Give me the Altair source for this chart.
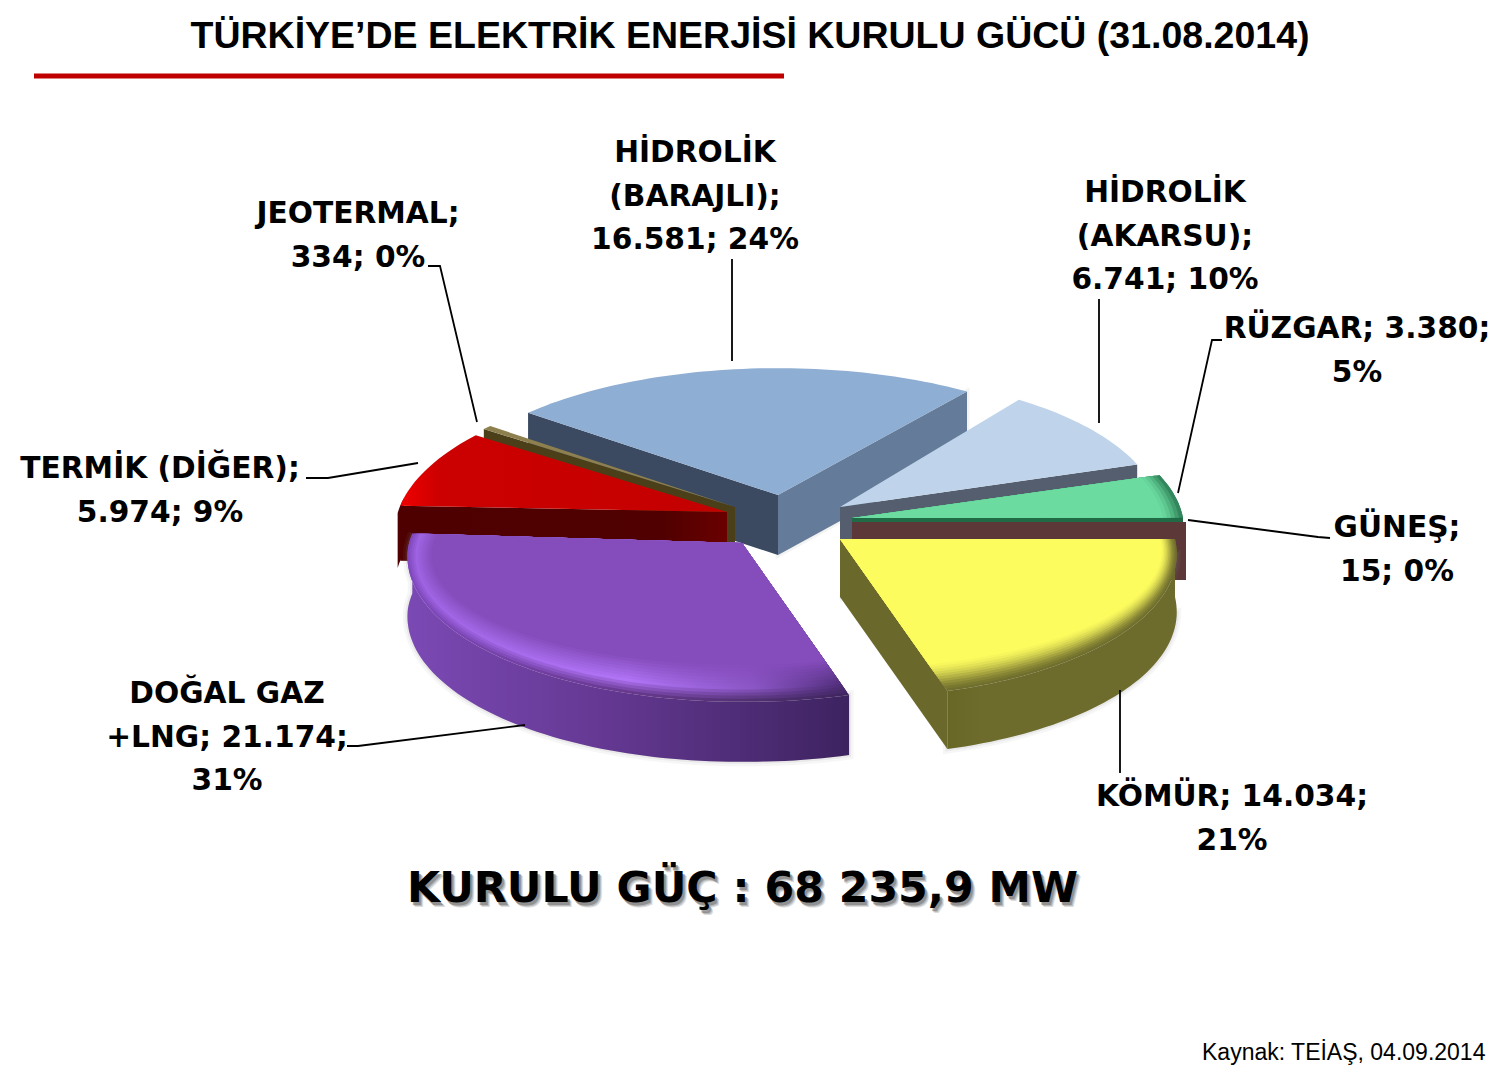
import math
import altair as alt

title_text = "TÜRKİYE’DE ELEKTRİK ENERJİSİ KURULU GÜCÜ (31.08.2014)"
total_text = "KURULU GÜÇ : 68 235,9 MW"
source_text = "Kaynak: TEİAŞ, 04.09.2014"

categories = ["KÖMÜR", "DOĞAL GAZ +LNG", "TERMİK (DİĞER)", "JEOTERMAL",
              "HİDROLİK (BARAJLI)", "HİDROLİK (AKARSU)", "RÜZGAR", "GÜNEŞ"]
values = [14034, 21174, 5974, 334, 16581, 6741, 3380, 15]
labels = ["KÖMÜR; 14.034;\n21%", "DOĞAL GAZ\n+LNG; 21.174;\n31%", "TERMİK (DİĞER);\n5.974; 9%",
          "JEOTERMAL;\n334; 0%", "HİDROLİK\n(BARAJLI);\n16.581; 24%", "HİDROLİK\n(AKARSU);\n6.741; 10%",
          "RÜZGAR; 3.380;\n5%", "GÜNEŞ;\n15; 0%"]

# geometry / style (page pixels; the projection and text offsets remove the 8px page margin)
START = 90.0
P = 0.08
SHEAR = 0.05
GEOM = {  # apex x, apex y, R, Q, depth, tilt
    "KÖMÜR": (840, 539, 335, 146, 58, 0),
    "DOĞAL GAZ +LNG": (742, 543, 334, 146, 60, 5),
    "TERMİK (DİĞER)": (727, 512, 331, 144, 55, 8),
    "JEOTERMAL": (735, 507, 331, 135, 38, 0),
    "HİDROLİK (BARAJLI)": (778, 495, 338, 137, 60, 0),
    "HİDROLİK (AKARSU)": (840, 507, 320, 142, 55, 0),
    "RÜZGAR": (852, 518, 331, 143, 58, 0),
    "GÜNEŞ": (852, 522, 334, 143, 58, 0),
}
LABEL_POS = {"KÖMÜR": (1232, 797), "DOĞAL GAZ +LNG": (227, 694), "TERMİK (DİĞER)": (160, 469),
             "JEOTERMAL": (358, 214), "HİDROLİK (BARAJLI)": (695, 153), "HİDROLİK (AKARSU)": (1165, 193),
             "RÜZGAR": (1357, 329), "GÜNEŞ": (1397, 528)}
LEADERS = [[(732, 259), (732, 361)],
           [(428, 266), (440, 266), (477, 422)],
           [(306, 478), (328, 478), (418, 463)],
           [(347, 746), (358, 746), (525, 725)],
           [(1120, 690), (1120, 773)],
           [(1330, 538), (1318, 537), (1188, 520)],
           [(1222, 340), (1212, 340), (1178, 493)],
           [(1099, 299), (1099, 423)]]

proj = dict(type="identity", scale=1, translate=[-8, -8])


def pt(name, t, da=0.0, db=0.0, dy=0.0):
    cx, cy, R, Q, _, tilt = GEOM[name]
    u, v = math.sin(math.radians(t)), math.cos(math.radians(t))
    w = 1 + P * v
    x = cx + (R - da) * u / w + SHEAR * (Q - db) * max(0.0, -v) / w
    y = cy - (Q - db) * v / w + dy + tilt * max(0.0, -u)
    return [x, y]


def arc(name, t0, t1, da=0.0, db=0.0, dy=0.0):
    n = max(2, int(abs(t1 - t0) / 1.5) + 2)
    return [pt(name, t0 + (t1 - t0) * i / (n - 1), da, db, dy) for i in range(n)]


def poly(coords):
    ring = [list(c) for c in coords]
    ring.append(ring[0])
    return {"type": "Feature", "properties": {}, "geometry": {"type": "Polygon", "coordinates": [ring]}}


def shape(coords, fill, **kw):
    return alt.Chart(alt.Data(values=[poly(coords)])).mark_geoshape(fill=fill, strokeWidth=0, **kw).project(**proj)


def halo(coords, width, opacity):
    return alt.Chart(alt.Data(values=[poly(coords)])).mark_geoshape(
        fill="#888888", fillOpacity=opacity, stroke="#888888", strokeWidth=width, strokeOpacity=opacity
    ).project(**proj)


def hgrad(stops):
    return alt.LinearGradient(gradient="linear", x1=0, x2=1, y1=0, y2=0,
                              stops=[alt.GradientStop(offset=o, color=c) for o, c in stops])


def mix(c1, c2, f):
    a = [int(c1[i:i + 2], 16) for i in (1, 3, 5)]
    b = [int(c2[i:i + 2], 16) for i in (1, 3, 5)]
    return "#%02x%02x%02x" % tuple(round(x + (y - x) * f) for x, y in zip(a, b))


# slice angles from the values
total = sum(values)
angles = {}
cum = START
for cat, val in zip(categories, values):
    sweep = val / total * 360
    angles[cat] = (cum, cum + sweep)
    cum += sweep


def apex(name, dy=0):
    return [GEOM[name][0], GEOM[name][1] + dy]


def screen_angle(name, p):
    return math.degrees(math.atan2(p[0] - GEOM[name][0], GEOM[name][1] - p[1]))


def on_cut(name, t, da, db):
    """Parameter at which the shrunken rim meets the straight cut edge at t."""
    target = screen_angle(name, pt(name, t))
    lo, hi = t - 25, t + 25
    for _ in range(40):
        m = (lo + hi) / 2
        d = (screen_angle(name, pt(name, m, da, db)) - target + 180) % 360 - 180
        if d > 0:
            hi = m
        else:
            lo = m
    return (lo + hi) / 2


def face(name, da=0.0, db=0.0):
    t0, t1 = angles[name]
    if da or db:
        t0, t1 = on_cut(name, t0, da, db), on_cut(name, t1, da, db)
    return [apex(name)] + arc(name, t0, t1, da, db)


def cut_wall(name, t, d=None):
    d = GEOM[name][4] if d is None else d
    return [apex(name), pt(name, t), pt(name, t, dy=d), apex(name, d)]


def rim_wall(name, t0, t1):
    d = GEOM[name][4]
    return arc(name, t0, t1) + arc(name, t1, t0, dy=d)


def bevel(name, da_max, db_max, color_rows):
    """Nested faces from the rim inward, giving a soft rounded edge."""
    out = []
    n = len(color_rows)
    for i, stops in enumerate(color_rows):
        f = i / (n - 1)
        fill = hgrad(stops) if isinstance(stops, list) else stops
        out.append(shape(face(name, da=da_max * f, db=db_max * f), fill))
    return out


layers = []

# --- back slices
B = "HİDROLİK (BARAJLI)"
layers += [halo(cut_wall(B, angles[B][1]), 5, 0.10),
           shape(cut_wall(B, angles[B][0]), "#3B4A60"),
           shape(cut_wall(B, angles[B][1] % 360), "#647C99"),
           shape(face(B), "#8FAED3")]

A = "HİDROLİK (AKARSU)"
layers += [shape(cut_wall(A, angles[A][1]), "#545E6E"),
           shape(face(A), "#BFD4EB")]

J = "JEOTERMAL"
layers += [shape(cut_wall(J, angles[J][0]), "#4A3F18"),
           shape(face(J), "#8E7F4E")]

T = "TERMİK (DİĞER)"
layers += [shape(rim_wall(T, angles[T][0] - 3, angles[T][0] + 3), "#500000"),
           shape(cut_wall(T, angles[T][0]), hgrad([(0, "#4E0000"), (0.8, "#500000"), (1, "#6A0000")])),
           shape(face(T), hgrad([(0, "#F00000"), (0.12, "#CC0000"), (1, "#C40000")]))]

R = "RÜZGAR"
green = "#6CDBA0"
gdark = "#1F6B45"
layers += [shape(rim_wall(R, angles[R][0], angles[R][1]), gdark)]
layers += bevel(R, 20, 7, [mix(gdark, green, f) for f in (0.25, 0.45, 0.65, 0.82, 0.94, 1.0)])

G = "GÜNEŞ"
layers += [shape(cut_wall(G, angles[G][1]), "#5C3838"),
           shape(cut_wall(R, 90, 4), gdark)]

# --- KÖMÜR
K = "KÖMÜR"
k0, k1 = angles[K]
kwall = "#6E6C2C"
layers += [halo(rim_wall(K, k0 + 6, k1) + [apex(K, GEOM[K][4])], 9, 0.08),
           halo(rim_wall(K, k0 + 6, k1) + [apex(K, GEOM[K][4])], 4, 0.12),
           shape(cut_wall(K, k1), "#6A682A"),
           shape(rim_wall(K, k0, k1), hgrad([(0, "#696726"), (0.15, kwall), (1, kwall)]))]
face_y = "#FDFC5F"
layers += bevel(K, 15, 27, [mix(kwall, face_y, f) for f in
                            (0.02, 0.08, 0.16, 0.26, 0.38, 0.5, 0.62, 0.73, 0.82, 0.9, 0.96, 1.0)])

# --- DOĞAL GAZ
D = "DOĞAL GAZ +LNG"
d0, d1 = angles[D]
face_p = "#854CBC"
left, mid, right = "#7B49B4", "#643892", "#3D2360"
layers += [halo(rim_wall(D, d0, d1), 9, 0.08),
           halo(rim_wall(D, d0, d1), 4, 0.12),
           shape(rim_wall(D, d0, d1), hgrad([(0, left), (0.45, mid), (1, right)]))]
rows = []
ridge = [(0, "#9E63E2"), (0.5, "#B074F6"), (0.8, "#8A55C4"), (1, "#54307F")]
base = [(0, "#8048BE"), (0.5, "#68398F"), (0.8, "#503070"), (1, "#3F2560")]


def blend(s1, s2, f):
    return [(o, mix(a, b, f)) for (o, a), (_, b) in zip(s1, s2)]


face_stops = [(o, face_p) for o, _ in ridge]
for f in (0.0, 0.25, 0.5, 0.75, 1.0):
    rows.append(blend(base, ridge, f))
for f in (0.12, 0.25, 0.38, 0.5, 0.62, 0.75, 0.88, 1.0):
    rows.append(blend(ridge, face_stops, f))
layers += bevel(D, 24, 34, rows)

# --- leader lines
for line in LEADERS:
    feat = {"type": "Feature", "properties": {}, "geometry": {"type": "LineString", "coordinates": line}}
    layers.append(alt.Chart(alt.Data(values=[feat])).mark_geoshape(
        filled=False, stroke="#000000", strokeWidth=1.8).project(**proj))


# --- text
def text(s, x, y, size, font="DejaVu Sans", weight="bold", color="#000000", opacity=1.0, align="center"):
    return alt.Chart(alt.Data(values=[{"t": s}])).mark_text(
        font=font, fontWeight=weight, fontSize=size, color=color, opacity=opacity, align=align,
        baseline="middle", lineBreak="\n", lineHeight=43.5
    ).encode(text="t:N", x=alt.value(x - 8), y=alt.value(y - 8))


for cat, lab in zip(categories, labels):
    x, y = LABEL_POS[cat]
    layers.append(text(lab, x, y, 29.7))

layers.append(alt.Chart(alt.Data(values=[{"a": 1}])).mark_rule(color="#C00000", strokeWidth=5).encode(
    x=alt.value(34 - 8), x2=alt.value(784 - 8), y=alt.value(76 - 8)))

layers.append(text(title_text, 750, 37, 37.5, font="Liberation Sans"))
for dx, dy, c, o in [(4, 5, "#BBBBBB", 0.5), (3, 4, "#999999", 0.5), (2, 3, "#777777", 0.6)]:
    layers.append(text(total_text, 742.5 + dx, 889 + dy, 42.7, color=c, opacity=o))
layers.append(text(total_text, 742.5, 889, 42.7))
layers.append(text(source_text, 1202, 1053, 23, font="Liberation Sans", weight="normal", align="left"))

chart = alt.layer(*layers).properties(
    width=1484, height=1064, padding=0, background="#ffffff",
    autosize=alt.AutoSizeParams(type="none")
).configure_view(stroke=None)

chart.save("out.html", embed_options={"renderer": "svg", "actions": False})
